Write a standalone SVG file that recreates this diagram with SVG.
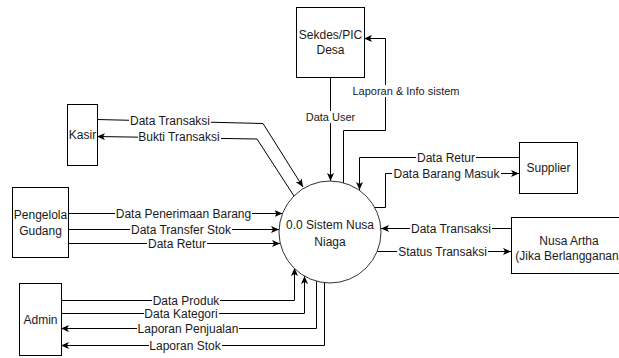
<svg xmlns="http://www.w3.org/2000/svg" width="619" height="358" viewBox="0 0 619 358">
  <style>
    .box { fill: #ffffff; stroke: #000000; stroke-width: 1; }
    .proc { fill: #ffffff; stroke: #333333; stroke-width: 1; }
    .node-text { font-family: "Liberation Sans", Arial, sans-serif; font-size: 12px; fill: #1a1a1a; text-anchor: middle; }
    .edge { fill: none; stroke: #000000; stroke-width: 1; }
    .arrow { marker-end: url(#arrowhead); }
    .lbl-bg { fill: #ffffff; }
    .lbl { font-family: "Liberation Sans", Arial, sans-serif; font-size: 12px; fill: #1a1a1a; text-anchor: middle; }
    .lbl-sm { font-size: 11px; }
  </style>
  <defs>
    <marker id="arrowhead" viewBox="0 0 8 7" refX="8" refY="3.5" markerWidth="8" markerHeight="7" markerUnits="userSpaceOnUse" orient="auto">
      <path d="M0,0 L8,3.5 L0,7 L2,3.5 Z" fill="#000000"/>
    </marker>
  </defs>

  <rect x="0" y="0" width="619" height="358" fill="#ffffff"/>

  <!-- connectors -->
  <g id="connectors">
    <!-- Kasir -->
    <path class="edge arrow" d="M97,119.5 L263,123.5 L303,187"/>
    <path class="edge arrow" d="M294,196 L257,139 L97,136.5"/>
    <!-- Pengelola Gudang -->
    <path class="edge arrow" d="M68,213.5 L282.5,213.5"/>
    <path class="edge arrow" d="M68,229.5 L279,229.5"/>
    <path class="edge arrow" d="M68,243.5 L280,243.5"/>
    <!-- Admin -->
    <path class="edge arrow" d="M61,300.5 L294.5,300.5 L294.5,268"/>
    <path class="edge arrow" d="M61,313.5 L304.5,313.5 L304.5,276"/>
    <path class="edge arrow" d="M316.5,281 L316.5,328.5 L61,328.5"/>
    <path class="edge arrow" d="M324.5,283 L324.5,345.5 L61,345.5"/>
    <!-- Sekdes/PIC Desa -->
    <path class="edge arrow" d="M330.5,77 L330.5,181"/>
    <path class="edge arrow" d="M343.5,183 L343.5,130.5 L385.5,130.5 L385.5,38.5 L364,38.5"/>
    <!-- Supplier -->
    <path class="edge arrow" d="M519,157.5 L359.5,157.5 L359.5,190"/>
    <path class="edge arrow" d="M374.5,207.5 L385.5,207.5 L385.5,173.5 L519,173.5"/>
    <!-- Nusa Artha -->
    <path class="edge arrow" d="M511,228.5 L381,228.5"/>
    <path class="edge arrow" d="M377,251.5 L511,251.5"/>

    <!-- edge labels -->
    <g id="edge-labels">
      <rect class="lbl-bg" x="129" y="114" width="82" height="13"/>
      <text class="lbl" x="170" y="125">Data Transaksi</text>

      <rect class="lbl-bg" x="138" y="130" width="83" height="13"/>
      <text class="lbl" x="179" y="141">Bukti Transaksi</text>

      <rect class="lbl-bg" x="115" y="207" width="137" height="13"/>
      <text class="lbl" x="183.5" y="218">Data Penerimaan Barang</text>

      <rect class="lbl-bg" x="130" y="223" width="102" height="13"/>
      <text class="lbl" x="181" y="234">Data Transfer Stok</text>

      <rect class="lbl-bg" x="147" y="237" width="60" height="13"/>
      <text class="lbl" x="177" y="248">Data Retur</text>

      <rect class="lbl-bg" x="152" y="295" width="68" height="11"/>
      <text class="lbl" x="186" y="305">Data Produk</text>

      <rect class="lbl-bg" x="144" y="308" width="75" height="12"/>
      <text class="lbl" x="181" y="318">Data Kategori</text>

      <rect class="lbl-bg" x="137" y="322" width="102" height="13"/>
      <text class="lbl" x="188" y="333">Laporan Penjualan</text>

      <rect class="lbl-bg" x="149" y="339" width="73" height="13"/>
      <text class="lbl" x="185" y="350">Laporan Stok</text>

      <rect class="lbl-bg" x="305" y="111" width="51" height="12"/>
      <text class="lbl lbl-sm" x="330.5" y="121">Data User</text>

      <rect class="lbl-bg" x="352" y="85" width="108" height="12"/>
      <text class="lbl lbl-sm" x="406" y="95">Laporan &amp; Info sistem</text>

      <rect class="lbl-bg" x="416" y="151" width="60" height="13"/>
      <text class="lbl" x="446" y="162">Data Retur</text>

      <rect class="lbl-bg" x="392" y="167" width="109" height="13"/>
      <text class="lbl" x="446.5" y="178">Data Barang Masuk</text>

      <rect class="lbl-bg" x="410" y="222" width="82" height="13"/>
      <text class="lbl" x="451" y="233">Data Transaksi</text>

      <rect class="lbl-bg" x="397" y="245" width="91" height="13"/>
      <text class="lbl" x="442.5" y="256">Status Transaksi</text>
    </g>
  </g>

  <!-- external entities and process -->
  <g id="kasir">
    <rect class="box" x="67.5" y="104.5" width="30" height="61"/>
    <text class="node-text" x="82.5" y="138.5">Kasir</text>
  </g>

  <g id="pengelola-gudang">
    <rect class="box" x="12.5" y="187.5" width="56" height="70"/>
    <text class="node-text" x="40.5" y="218.5">Pengelola</text>
    <text class="node-text" x="40.5" y="234.5">Gudang</text>
  </g>

  <g id="admin">
    <rect class="box" x="19.5" y="283.5" width="42" height="72"/>
    <text class="node-text" x="40.5" y="323.5">Admin</text>
  </g>

  <g id="sekdes-pic-desa">
    <rect class="box" x="296.5" y="7.5" width="68" height="70"/>
    <text class="node-text" x="330.5" y="39">Sekdes/PIC</text>
    <text class="node-text" x="330.5" y="54">Desa</text>
  </g>

  <g id="supplier">
    <rect class="box" x="519.5" y="142.5" width="58" height="51"/>
    <text class="node-text" x="548.5" y="171.5">Supplier</text>
  </g>

  <g id="nusa-artha">
    <rect class="box" x="511.5" y="217.5" width="115" height="56"/>
    <text class="node-text" x="569" y="245">Nusa Artha</text>
    <text class="node-text" x="569" y="259.5">(Jika Berlangganan)</text>
  </g>

  <g id="sistem-nusa-niaga">
    <circle class="proc" cx="330" cy="232" r="51"/>
    <text class="node-text" x="330" y="228.5">0.0 Sistem Nusa</text>
    <text class="node-text" x="330" y="245.5">Niaga</text>
  </g>
</svg>
